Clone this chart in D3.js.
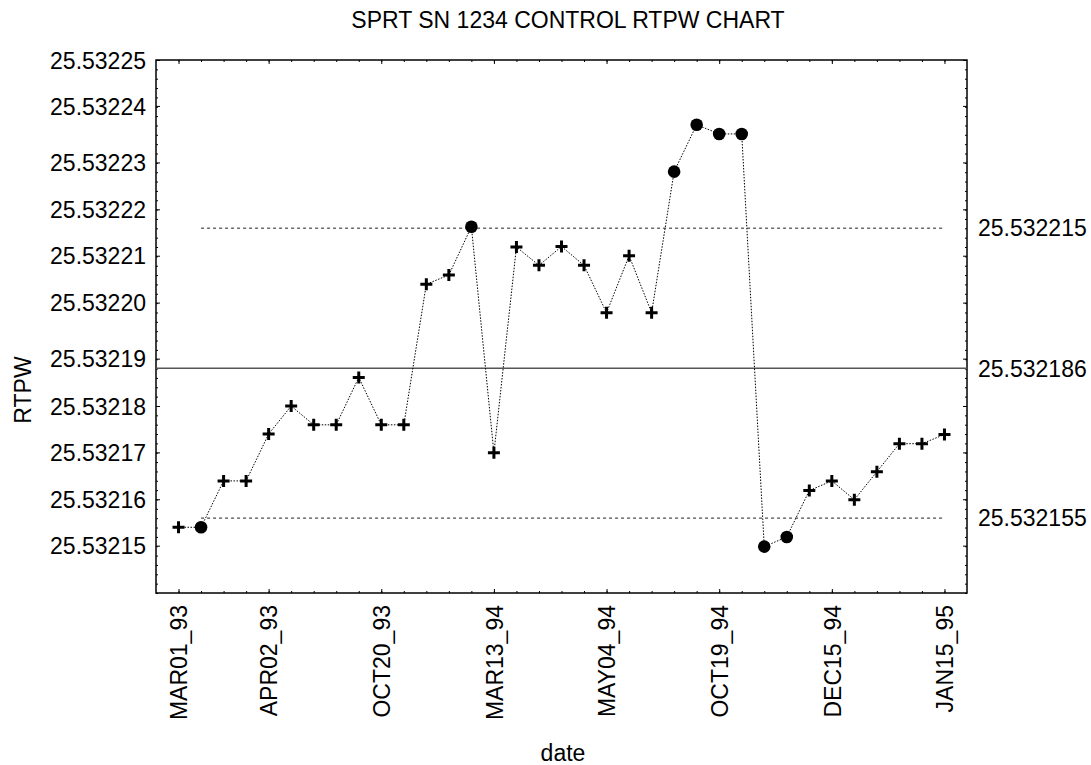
<!DOCTYPE html>
<html lang="en">
  <head>
    <meta charset="UTF-8">
    <title>SPRT SN 1234 CONTROL RTPW CHART</title>
    <style>
    * {
      box-sizing: border-box;
      margin: 0;
      padding: 0;
    }

    body {
      background: #fff;
    }

    svg {
      display: block;
      font-family: "Liberation Sans", Arial, sans-serif;
    }

    .axis text, .lbl {
      font-size: 23px;
      fill: #000;
    }

    .axis path {
      display: none;
    }

    .axis line {
      stroke: #000;
      stroke-width: 1;
    }

    .frame {
      fill: none;
      stroke: #000;
      stroke-width: 1.5px;
    }

    .series {
      fill: none;
      stroke: #000;
      stroke-width: 1;
      stroke-dasharray: 1.5 1.5;
    }

    .limit {
      stroke: #222;
      stroke-width: 1;
      stroke-dasharray: 3 3;
    }

    .center {
      stroke: #555;
      stroke-width: 1.6px;
    }
    </style>
  </head>
  <body>
    <svg width="1091" height="765"></svg>
    <script src="https://d3js.org/d3.v7.min.js"></script>
    <script>
      // RTPW readings, one per calibration date (35 points)
      const rtpw = [
        25.5321531, 25.5321531, 25.5321627, 25.5321627, 25.5321724,
        25.5321782, 25.5321743, 25.5321743, 25.5321841, 25.5321743,
        25.5321743, 25.5322034, 25.5322053, 25.5322153, 25.5321685,
        25.5322111, 25.5322073, 25.5322112, 25.5322073, 25.5321975,
        25.5322093, 25.5321975, 25.5322267, 25.5322364, 25.5322345,
        25.5322345, 25.5321491, 25.5321511, 25.5321607, 25.5321627,
        25.5321588, 25.5321646, 25.5321704, 25.5321704, 25.5321723
      ];

      // date labels and the point each one sits under
      const dateLabels = ["MAR01_93", "APR02_93", "OCT20_93", "MAR13_94",
                          "MAY04_94", "OCT19_94", "DEC15_94", "JAN15_95"];
      const dateIdx = [0, 4, 9, 14, 19, 24, 29, 34];

      // control lines: upper, center, lower
      const limitVals = [25.532215, 25.532186, 25.532155];
      const limitLabels = ["25.532215", "25.532186", "25.532155"];

      // y axis ticks (values as placed, labels as printed)
      const yTickVals = [25.5322498, 25.5322403, 25.5322286, 25.5322189, 25.5322093,
                         25.5321996, 25.532188, 25.5321782, 25.5321686, 25.5321589, 25.5321493];
      const yTickLabels = ["25.53225", "25.53224", "25.53223", "25.53222", "25.53221",
                           "25.53220", "25.53219", "25.53218", "25.53217", "25.53216", "25.53215"];
      const yDomain = [25.5321395, 25.5322498];

      const margin = { top: 60, right: 124, bottom: 172, left: 156 };
      const W = 1091, H = 765;
      const width = W - margin.left - margin.right;
      const height = H - margin.top - margin.bottom;

      const svg = d3.select("svg");
      const g = svg.append("g")
        .attr("transform", `translate(${margin.left},${margin.top})`);

      const x = d3.scaleLinear().domain([-1, rtpw.length]).range([0, width]);
      const y = d3.scaleLinear().domain(yDomain).range([height, 0]);

      // minor ticks: 57 equal steps over the y range, one per point on x
      const yMinor = d3.range(58).map(i => yDomain[0] + i * (yDomain[1] - yDomain[0]) / 57);
      const xMinor = d3.range(rtpw.length);

      g.append("g").attr("class", "axis")
        .call(d3.axisLeft(y).tickValues(yMinor).tickSize(-2).tickFormat(""));
      g.append("g").attr("class", "axis")
        .attr("transform", `translate(${width},0)`)
        .call(d3.axisRight(y).tickValues(yMinor).tickSize(-2).tickFormat(""));
      g.append("g").attr("class", "axis")
        .call(d3.axisRight(y).tickValues(yTickVals).tickSize(4).tickFormat(""));
      g.append("g").attr("class", "axis")
        .attr("transform", `translate(${width},0)`)
        .call(d3.axisLeft(y).tickValues(yTickVals).tickSize(4).tickFormat(""));

      const yAxis = g.append("g").attr("class", "axis")
        .call(d3.axisLeft(y).tickValues(yTickVals).tickSize(0).tickPadding(10)
          .tickFormat((d, i) => yTickLabels[i]));
      yAxis.selectAll("text").attr("dy", "0.36em");

      g.append("g").attr("class", "axis")
        .attr("transform", `translate(0,${height})`)
        .call(d3.axisBottom(x).tickValues(xMinor).tickSize(-2).tickFormat(""));
      g.append("g").attr("class", "axis")
        .call(d3.axisTop(x).tickValues(xMinor).tickSize(-2).tickFormat(""));
      g.append("g").attr("class", "axis")
        .call(d3.axisTop(x).tickValues(dateIdx).tickSize(-4).tickFormat(""));

      const xAxis = g.append("g").attr("class", "axis")
        .attr("transform", `translate(0,${height})`)
        .call(d3.axisBottom(x).tickValues(dateIdx).tickSize(-4)
          .tickFormat((d, i) => dateLabels[i]));
      xAxis.selectAll("text")
        .attr("transform", "rotate(-90)")
        .attr("text-anchor", "end")
        .attr("x", -12)
        .attr("y", 0)
        .attr("dy", "0.36em");

      g.append("rect").attr("class", "frame")
        .attr("width", width).attr("height", height);

      // control lines
      g.append("line").attr("class", "center")
        .attr("x1", 0).attr("x2", width)
        .attr("y1", y(limitVals[1])).attr("y2", y(limitVals[1]));
      [limitVals[0], limitVals[2]].forEach(v => {
        g.append("line").attr("class", "limit")
          .attr("x1", x(1)).attr("x2", x(rtpw.length - 1))
          .attr("y1", y(v)).attr("y2", y(v));
      });
      g.selectAll(".limit-label")
        .data(limitVals)
        .enter().append("text")
        .attr("class", "lbl")
        .attr("x", width + 11)
        .attr("y", d => y(d))
        .attr("dy", "0.36em")
        .text((d, i) => limitLabels[i]);

      g.append("path").attr("class", "series")
        .attr("d", d3.line().x((d, i) => x(i)).y(d => y(d))(rtpw));

      const out = (d, i) => i > 0 && (d > limitVals[0] || d < limitVals[2]);
      const pts = g.selectAll(".pt")
        .data(rtpw)
        .enter().append("g")
        .attr("transform", (d, i) => `translate(${x(i)},${y(d)})`);

      pts.filter((d, i) => out(d, i)).append("circle")
        .attr("r", 6.3).attr("fill", "#000");
      pts.filter((d, i) => !out(d, i)).append("path")
        .attr("d", "M-6,0H6M0,-6V6")
        .attr("stroke", "#000").attr("stroke-width", 3);

      svg.append("text").attr("class", "lbl")
        .attr("x", 568).attr("y", 28)
        .attr("text-anchor", "middle")
        .text("SPRT SN 1234 CONTROL RTPW CHART");

      svg.append("text").attr("class", "lbl")
        .attr("transform", "translate(31,390) rotate(-90)")
        .attr("text-anchor", "middle")
        .text("RTPW");

      svg.append("text").attr("class", "lbl")
        .attr("x", 563).attr("y", 761)
        .attr("text-anchor", "middle")
        .text("date");
    </script>
  </body>
</html>
